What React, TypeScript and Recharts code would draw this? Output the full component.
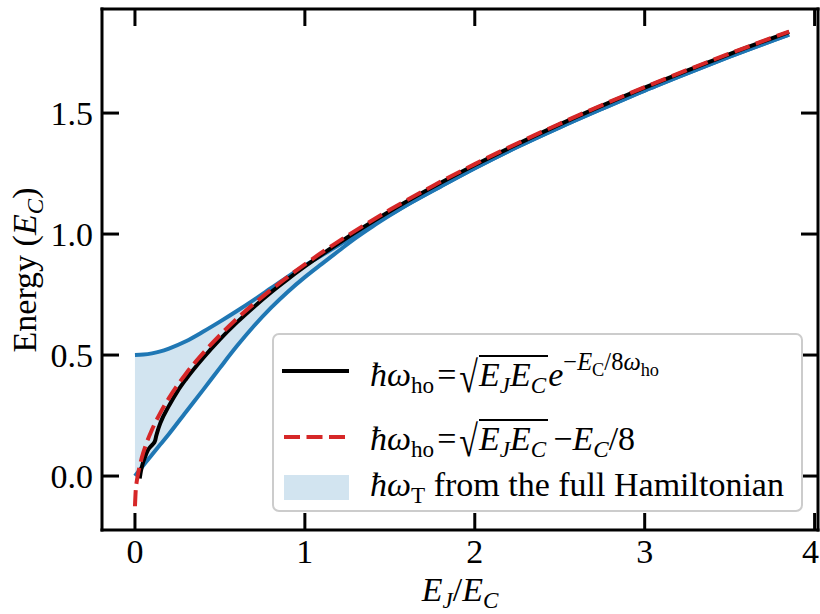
import React from 'react';
import { ComposedChart, Line, Area, XAxis, YAxis, Legend } from 'recharts';

// Transmon band (upper / lower edges)
const BAND_X = [0, 0.05, 0.1, 0.15, 0.2, 0.3, 0.4, 0.5, 0.6, 0.7, 0.8, 0.9, 1.0, 1.1, 1.2, 1.3, 1.4, 1.5, 1.6, 1.8, 2.0, 2.25, 2.5, 2.75, 3.0, 3.25, 3.5, 3.85];
const BAND_UPPER = [0.5, 0.502, 0.507, 0.515, 0.527, 0.557, 0.596, 0.638, 0.682, 0.728, 0.776, 0.824, 0.87, 0.912, 0.955, 0.998, 1.04, 1.08, 1.12, 1.197, 1.272, 1.36, 1.441, 1.518, 1.593, 1.664, 1.733, 1.824];
const BAND_LOWER = [0, 0.045, 0.088, 0.131, 0.174, 0.265, 0.355, 0.447, 0.537, 0.62, 0.695, 0.762, 0.822, 0.877, 0.931, 0.984, 1.032, 1.077, 1.12, 1.197, 1.272, 1.36, 1.441, 1.518, 1.593, 1.664, 1.733, 1.824];

// Black: hbar w_ho = sqrt(EJ EC) exp(-EC / 8 w_ho)
const BLACK_X = [0.028, 0.035, 0.045, 0.06, 0.075, 0.09, 0.105, 0.118, 0.125, 0.135, 0.15, 0.2, 0.25, 0.3, 0.4, 0.5, 0.6, 0.7, 0.8, 0.9, 1.0, 1.2, 1.5, 2.0, 2.5, 3.0, 3.5, 3.85];
const BLACK_Y = [-0.01, 0.02, 0.05, 0.08, 0.105, 0.12, 0.131, 0.145, 0.165, 0.19, 0.22, 0.29, 0.35, 0.4, 0.487, 0.565, 0.635, 0.699, 0.759, 0.814, 0.866, 0.963, 1.094, 1.285, 1.453, 1.605, 1.744, 1.835];

// Red dashed: hbar w_ho = sqrt(EJ EC) - EC/8
const RED_X = [0, 0.005, 0.01, 0.02, 0.04, 0.07, 0.1, 0.15, 0.2, 0.3, 0.4, 0.5, 0.6, 0.8, 1.0, 1.25, 1.5, 1.75, 2.0, 2.5, 3.0, 3.5, 3.85];
const RED_Y = [-0.125, -0.054, -0.025, 0.016, 0.075, 0.14, 0.191, 0.262, 0.322, 0.423, 0.507, 0.582, 0.65, 0.769, 0.875, 0.993, 1.1, 1.198, 1.289, 1.456, 1.607, 1.746, 1.837];

const X_TICKS = [0, 1, 2, 3, 4];
const Y_TICKS = [0, 0.5, 1.0, 1.5];
const X_DOMAIN: [number, number] = [-0.194, 4.02];
const Y_DOMAIN: [number, number] = [-0.223, 1.93];

const W = 820;
const H = 614;
const FONT = '"Liberation Serif", "DejaVu Serif", serif';
const BLUE = '#1f77b4';
const RED = '#d62728';

const sub: React.CSSProperties = { fontSize: '0.68em', position: 'relative', top: '0.3em' };
const eq: React.CSSProperties = { margin: '0 3px' };

function Radical({ children }: { children: React.ReactNode }) {
  return (
    <span style={{ whiteSpace: 'nowrap' }}>
      <span style={{ display: 'inline-block', transform: 'scaleY(1.3) translateY(2px)', marginRight: 1 }}>√</span>
      <span style={{ display: 'inline-block', borderTop: '2px solid #000', lineHeight: '34px', paddingTop: 1, paddingRight: 2 }}>{children}</span>
    </span>
  );
}

function LegendBox() {
  const row: React.CSSProperties = { position: 'absolute', left: 96, lineHeight: '40px', fontSize: 34, fontFamily: FONT, whiteSpace: 'nowrap', color: '#000' };
  return (
    <div style={{ position: 'relative', width: 531, height: 179, boxSizing: 'border-box', border: '2px solid #cccccc', borderRadius: 7, background: 'rgba(255,255,255,0.85)' }}>
      <svg width={80} height={179} style={{ position: 'absolute', left: 0, top: 0 }}>
        <line x1={8} x2={75} y1={36} y2={36} stroke="#000" strokeWidth={4} />
        <line x1={10} x2={75} y1={102} y2={102} stroke={RED} strokeWidth={4} strokeDasharray="16 6.5" />
        <rect x={10} y={140} width={65} height={25} fill={BLUE} fillOpacity={0.2} />
      </svg>
      <div style={{ ...row, top: 20 }}>
        <i>ħω</i><span style={sub}>ho</span><span style={eq}>=</span><Radical><i>E</i><span style={sub}><i>J</i></span><i>E</i><span style={sub}><i>C</i></span></Radical>
        <i>e</i>
        <span style={{ fontSize: '0.72em', position: 'relative', top: '-0.65em' }}>−<i>E</i><span style={{ fontSize: '0.75em', position: 'relative', top: '0.3em' }}>C</span>/8<i>ω</i><span style={{ fontSize: '0.75em', position: 'relative', top: '0.3em' }}>ho</span></span>
      </div>
      <div style={{ ...row, top: 84 }}>
        <i>ħω</i><span style={sub}>ho</span><span style={eq}>=</span><Radical><i>E</i><span style={sub}><i>J</i></span><i>E</i><span style={sub}><i>C</i></span></Radical><span style={{ marginLeft: 5 }}>−</span><i>E</i><span style={sub}><i>C</i></span>/8
      </div>
      <div style={{ ...row, top: 130 }}>
        <i>ħω</i><span style={sub}>T</span> from the full Hamiltonian
      </div>
    </div>
  );
}

const blank = () => '';

// bottom tick label; the last one is nudged left so it stays inside the 820px picture
function XTick(props: any) {
  const { x, y, payload } = props;
  const last = payload.value === X_TICKS[X_TICKS.length - 1];
  return (
    <text x={x} y={y} dx={last ? -4 : 0} dy="0.71em" textAnchor="middle" fontSize={34} fill="#000" fontFamily={FONT}>
      {payload.value}
    </text>
  );
}

export default function App() {
  const band = BAND_X.map((x, i) => ({ x, lo: BAND_LOWER[i], hi: BAND_UPPER[i] }));
  const black = BLACK_X.map((x, i) => ({ x, y: BLACK_Y[i] }));
  const red = RED_X.map((x, i) => ({ x, y: RED_Y[i] }));
  const axisLine = { stroke: '#000', strokeWidth: 3, strokeLinecap: 'square' as const };
  const tickLine = { stroke: '#000', strokeWidth: 3 };
  const tickStyle = { fontSize: 34, fill: '#000', fontFamily: FONT };

  return (
    <div style={{ position: 'absolute', left: 0, top: 0, width: W, height: H, background: '#fff' }}>
      <ComposedChart width={W} height={H} margin={{ top: 8, right: 1, bottom: 54, left: 42 }}>
        <XAxis xAxisId="b" type="number" dataKey="x" orientation="bottom" domain={X_DOMAIN} allowDataOverflow ticks={X_TICKS} interval={0}
          height={30} tickSize={-17} tickMargin={26} axisLine={axisLine} tickLine={tickLine} tick={<XTick />} />
        <XAxis xAxisId="t" type="number" dataKey="x" orientation="top" domain={X_DOMAIN} allowDataOverflow ticks={X_TICKS} interval={0}
          height={1} tickSize={-17} tickMargin={0} axisLine={axisLine} tickLine={tickLine} tick={tickStyle} tickFormatter={blank} />
        <YAxis yAxisId="l" type="number" orientation="left" domain={Y_DOMAIN} allowDataOverflow ticks={Y_TICKS} interval={0}
          width={60} tickSize={-17} tickMargin={26} axisLine={axisLine} tickLine={tickLine} tick={tickStyle}
          tickFormatter={(v: number) => v.toFixed(1)} />
        <YAxis yAxisId="r" type="number" orientation="right" domain={Y_DOMAIN} allowDataOverflow ticks={Y_TICKS} interval={0}
          width={1} tickSize={-17} tickMargin={0} axisLine={axisLine} tickLine={tickLine} tick={tickStyle} tickFormatter={blank} />
        <Area xAxisId="b" yAxisId="l" data={band} dataKey={(d: any) => [d.lo, d.hi]} type="monotone" stroke="none"
          fill={BLUE} fillOpacity={0.2} isAnimationActive={false} />
        <Line xAxisId="b" yAxisId="l" data={band} dataKey="hi" type="monotone" stroke={BLUE} strokeWidth={4} dot={false} isAnimationActive={false} />
        <Line xAxisId="b" yAxisId="l" data={band} dataKey="lo" type="monotone" stroke={BLUE} strokeWidth={4} dot={false} isAnimationActive={false} />
        <Line xAxisId="b" yAxisId="l" data={black} dataKey="y" type="monotone" stroke="#000" strokeWidth={4} dot={false} isAnimationActive={false} />
        <Line xAxisId="b" yAxisId="l" data={red} dataKey="y" type="monotone" stroke={RED} strokeWidth={4} strokeDasharray="16 6.5" dot={false} isAnimationActive={false} />
        {/* invisible twin of the red curve so the top/right frame axes get their ticks */}
        <Line xAxisId="t" yAxisId="r" data={red} dataKey="y" type="monotone" stroke="none" dot={false} activeDot={false} legendType="none" isAnimationActive={false} />
        <Legend layout="vertical" align="center" verticalAlign="middle"
          wrapperStyle={{ left: 272, top: 333, width: 531, height: 179 }} content={() => <LegendBox />} />
      </ComposedChart>
      <div style={{ position: 'absolute', left: 460, top: 570, transform: 'translateX(-50%)', fontSize: 34, lineHeight: '40px', fontFamily: FONT, whiteSpace: 'nowrap' }}>
        <i>E</i><span style={sub}><i>J</i></span>/<i>E</i><span style={sub}><i>C</i></span>
      </div>
      <div style={{ position: 'absolute', left: 26, top: 270, transform: 'translate(-50%,-50%) rotate(-90deg)', fontSize: 34, lineHeight: '40px', fontFamily: FONT, whiteSpace: 'nowrap' }}>
        Energy (<i>E</i><span style={sub}><i>C</i></span>)
      </div>
    </div>
  );
}
